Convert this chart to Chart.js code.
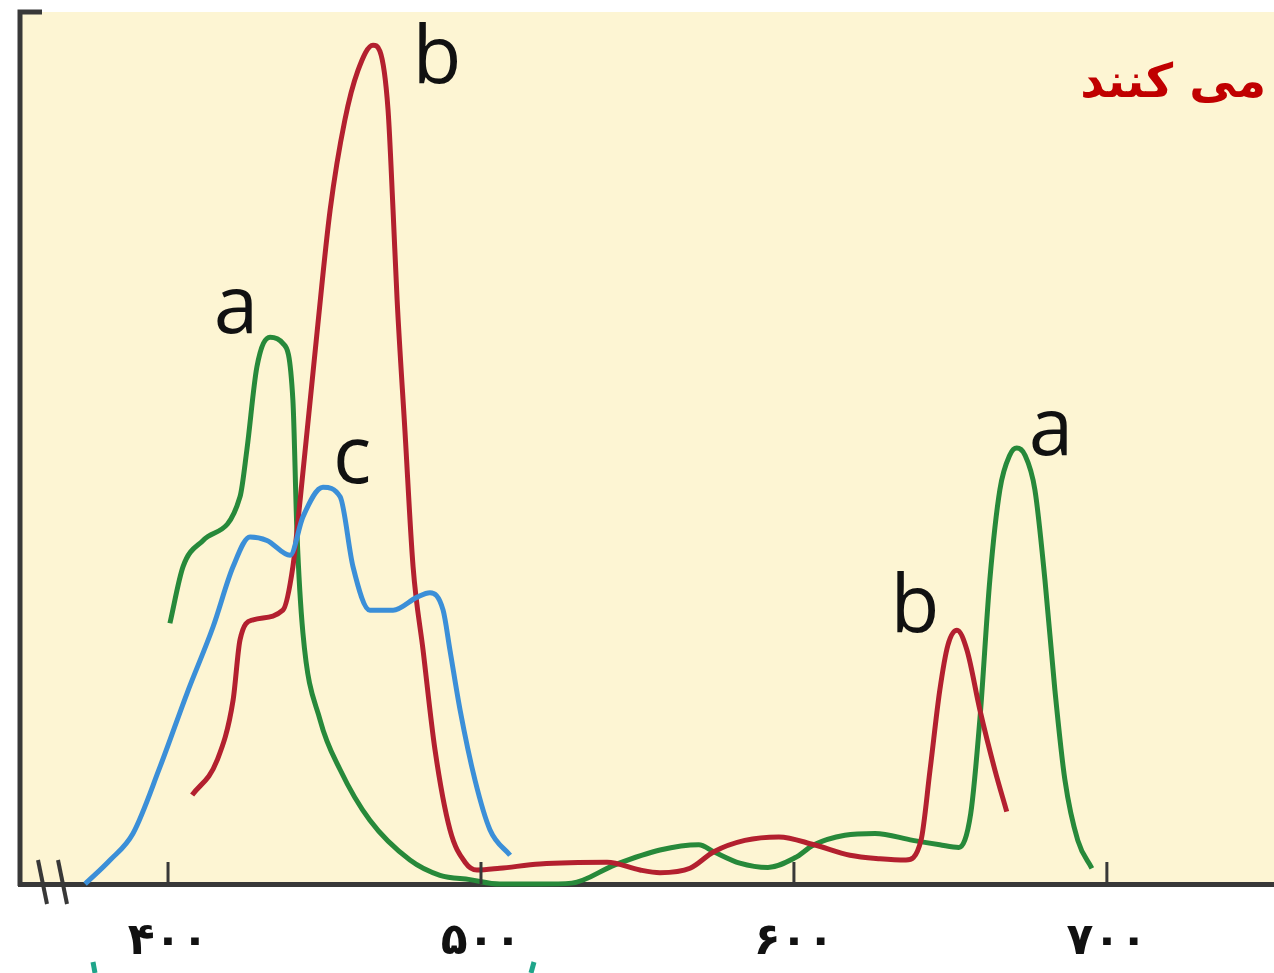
<!DOCTYPE html>
<html lang="fa">
<head>
  <meta charset="UTF-8">
  <title>طیف جذبی</title>
  <script src="https://cdn.jsdelivr.net/npm/chart.js"></script>
  <style>
    body { margin: 0; background: #fff; }
    #wrap { width: 1274px; height: 973px; }
  </style>
</head>
<body>
  <div id="wrap"><canvas id="spectrum" width="1274" height="973"></canvas></div>

  <script>
    // x ticks (nm) with persian labels
    const tickValues = [400, 500, 600, 700];
    const tickLabels = ['۴۰۰', '۵۰۰', '۶۰۰', '۷۰۰'];

    // a (green)
    const aWave = [400.6, 404.8, 411.2, 423, 425.2, 428.4, 432.6, 436.7, 439.9, 441.2, 443.1, 448.6, 455, 464.5, 477.3, 486.9, 496.5, 506, 518.8, 529, 542.8, 557.2, 569.6, 574.4, 582.7, 591.7, 600.3, 606.4, 616.3, 625.9, 638, 646.6, 652.7, 656.5, 659.4, 662.6, 665.8, 669, 671.2, 673.8, 677, 680.2, 683.4, 686.6, 690.7, 695.2];
    const aValue = [29.9, 36.4, 39.4, 44.4, 49.8, 59.3, 62.7, 62, 55.5, 40.3, 28.8, 18.8, 13.1, 7.3, 2.75, 1.0, 0.5, 0, 0, 0.1, 2.2, 3.9, 4.5, 3.7, 2.4, 1.9, 3.0, 4.5, 5.6, 5.8, 5.0, 4.5, 4.2, 8.1, 18.8, 34.9, 45.2, 49.2, 50, 49.2, 45.2, 34.9, 22.2, 11.9, 5.0, 1.8];

    // b (red)
    const bWave = [407.7, 415.7, 420.8, 423, 427.2, 436.7, 439.9, 442.2, 447.6, 451.8, 456.5, 460.7, 465.5, 467.7, 470.3, 471.9, 473.2, 475.7, 478.3, 481.5, 485.3, 490.1, 494.9, 498.7, 506, 518.8, 540.3, 550.8, 557.2, 566.8, 574.4, 584.3, 595.2, 606.4, 617.9, 627.5, 635.8, 640.6, 643.5, 646.6, 649.2, 652.1, 655.3, 659.4, 664.2, 668];
    const bValue = [10.2, 14.2, 21.1, 28, 30.3, 31.4, 36.4, 44, 63.2, 77.3, 87.6, 93.3, 96.2, 95.5, 88.8, 77.3, 67, 52, 36.4, 26.8, 15.4, 6.2, 2.5, 1.6, 1.8, 2.3, 2.5, 1.6, 1.3, 1.8, 3.7, 5.0, 5.4, 4.5, 3.3, 2.9, 2.75, 5.0, 13.1, 22.2, 27.4, 29.1, 26.8, 20, 13.1, 8.3];

    // c (blue)
    const cWave = [373.5, 381.5, 388.8, 397.4, 406.1, 414.4, 420.8, 426.2, 431.6, 439, 443.1, 449.5, 455, 459.1, 464.5, 471.9, 479.6, 483.7, 487.9, 490.1, 493.3, 498.1, 502.9, 509.3];
    const cValue = [0, 2.75, 5.8, 13.4, 21.9, 29.5, 36.4, 39.8, 39.4, 37.7, 42.1, 45.5, 44.4, 36.4, 31.4, 31.4, 32.9, 33.4, 31.4, 26.8, 20, 11.9, 6.2, 3.3];

    // curve letters
    const letterText = ['b', 'a', 'c', 'a', 'b'];
    const letterWave = [485.9, 421.7, 458.8, 682.1, 638.7];
    const letterValue = [91.9, 63.2, 46, 49.2, 28.9];

    const toPoints = (xs, ys) => xs.map((x, i) => ({ x: x, y: ys[i] }));

    // cream plot area + axes bits + letters
    const decor = {
      id: 'decor',
      beforeDraw(chart) {
        const { ctx, chartArea: a } = chart;
        ctx.save();
        ctx.fillStyle = '#fdf5d3';
        ctx.fillRect(a.left, a.top, a.right - a.left, a.bottom - a.top);
        ctx.restore();
      },
      afterDraw(chart) {
        const { ctx, chartArea: a, scales } = chart;
        const xs = scales.x, ys = scales.y;
        ctx.save();
        ctx.strokeStyle = '#383838';
        ctx.lineCap = 'butt';
        // left axis with top cap
        ctx.lineWidth = 5;
        ctx.beginPath();
        ctx.moveTo(a.left, a.bottom + 2);
        ctx.lineTo(a.left, a.top);
        ctx.lineTo(a.left + 22, a.top);
        ctx.stroke();
        // inward ticks
        ctx.lineWidth = 3;
        tickValues.forEach(v => {
          const px = xs.getPixelForValue(v);
          ctx.beginPath();
          ctx.moveTo(px, a.bottom);
          ctx.lineTo(px, a.bottom - 22);
          ctx.stroke();
        });
        // axis break
        ctx.lineWidth = 4;
        [18, 38].forEach(d => {
          ctx.beginPath();
          ctx.moveTo(a.left + d, a.bottom - 24);
          ctx.lineTo(a.left + d + 9, a.bottom + 20);
          ctx.stroke();
        });
        // letters
        ctx.fillStyle = '#111';
        ctx.font = '80px "Open Sans"';
        ctx.textAlign = 'center';
        ctx.textBaseline = 'alphabetic';
        letterText.forEach((t, i) => {
          ctx.fillText(t, xs.getPixelForValue(letterWave[i]), ys.getPixelForValue(letterValue[i]));
        });
        // cropped caption, top right
        ctx.fillStyle = '#c00000';
        ctx.font = 'bold 47px "DejaVu Sans"';
        ctx.direction = 'rtl';
        ctx.textAlign = 'right';
        ctx.fillText('می کنند', 1266, 97);
        // cropped teal text fragments at the bottom
        ctx.strokeStyle = '#1fa58a';
        ctx.lineWidth = 5;
        [[93, 962, 95, 973], [534, 962, 531, 973]].forEach(s => {
          ctx.beginPath();
          ctx.moveTo(s[0], s[1]);
          ctx.lineTo(s[2], s[3]);
          ctx.stroke();
        });
        ctx.restore();
      }
    };

    const ctx = document.getElementById('spectrum').getContext('2d');
    const spectrumChart = new Chart(ctx, {
      type: 'line',
      data: {
        datasets: [{
          label: 'c',
          data: toPoints(cWave, cValue),
          borderColor: '#3b8fd8'
        }, {
          label: 'b',
          data: toPoints(bWave, bValue),
          borderColor: '#b3202f'
        }, {
          label: 'a',
          data: toPoints(aWave, aValue),
          borderColor: '#27893a'
        }]
      },
      options: {
        responsive: false,
        animation: false,
        layout: { padding: { left: 20, top: 12, right: 0, bottom: 0 } },
        elements: {
          line: { borderWidth: 5, cubicInterpolationMode: 'monotone', fill: false },
          point: { radius: 0 }
        },
        datasets: { line: { clip: false } },
        plugins: {
          legend: { display: false },
          tooltip: { enabled: false }
        },
        scales: {
          x: {
            type: 'linear',
            min: 352.7,
            max: 753.4,
            afterBuildTicks: axis => { axis.ticks = tickValues.map(v => ({ value: v })); },
            afterFit: axis => { axis.height = 89; },
            grid: { display: true, drawOnChartArea: false, drawTicks: false },
            border: { display: true, color: '#383838', width: 5 },
            ticks: {
              padding: 32,
              color: '#111',
              font: { family: 'DejaVu Sans', weight: 'bold', size: 44 },
              callback: v => tickLabels[tickValues.indexOf(v)]
            }
          },
          y: {
            display: false,
            min: 0,
            max: 100
          }
        }
      },
      plugins: [decor]
    });
  </script>
</body>
</html>
